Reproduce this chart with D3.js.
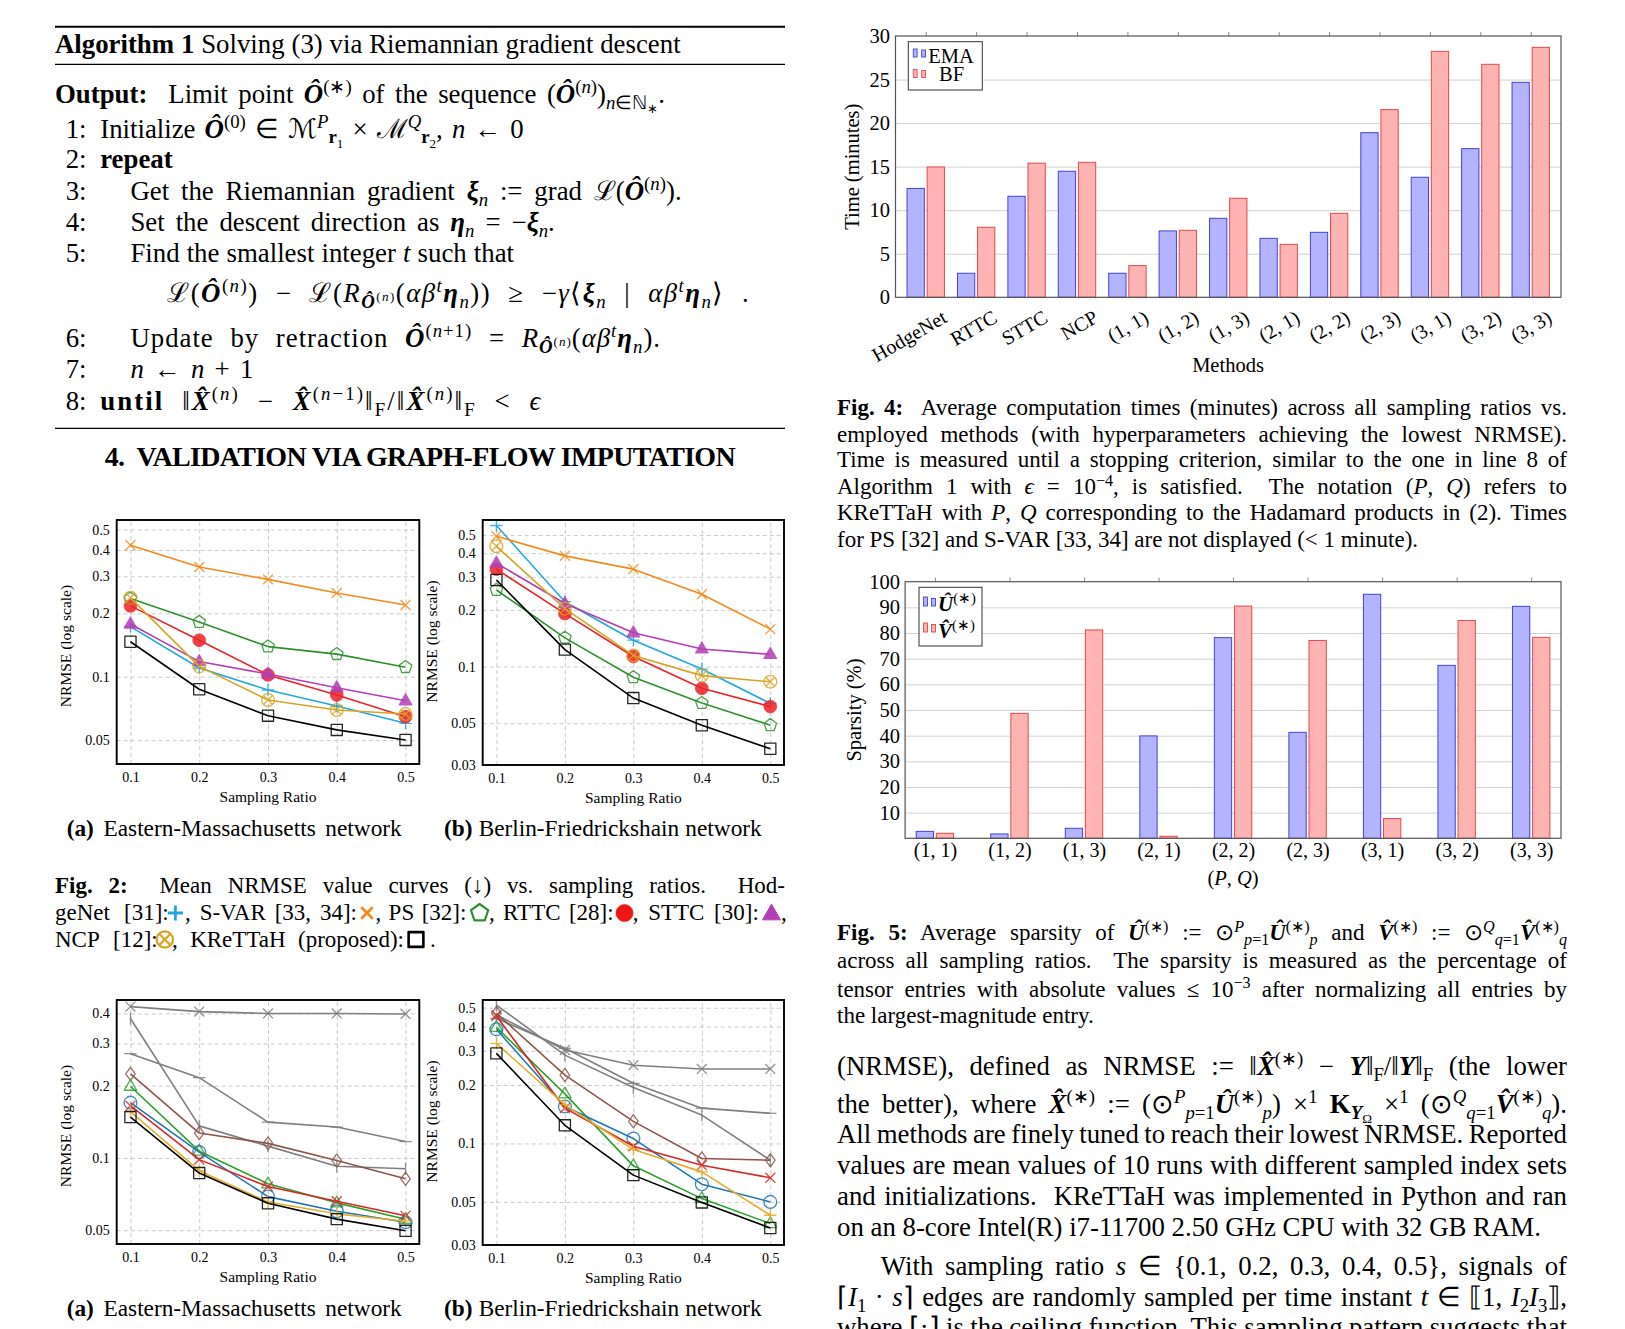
<!DOCTYPE html>
<html>
<head>
<meta charset="utf-8">
<script src="https://cdn.jsdelivr.net/npm/d3@7"></script>
<style>
  html,body{margin:0;padding:0;background:#fff;}
  svg{display:block;background:#fff;}
  svg text{font-family:"Liberation Serif","Times New Roman",serif;white-space:pre;}
</style>
</head>
<body>
<svg id="page" width="1625" height="1329" xmlns="http://www.w3.org/2000/svg"></svg>
<script>
// ================= DATA =================
const samplingRatios = [0.1, 0.2, 0.3, 0.4, 0.5];

// Fig. 2(a) Eastern-Massachusetts
const fig2aHodgeNet = [0.173, 0.110, 0.0865, 0.0726, 0.0601];
const fig2aSVAR     = [0.421, 0.332, 0.290, 0.250, 0.219];
const fig2aPS       = [0.235, 0.182, 0.139, 0.128, 0.111];
const fig2aRTTC     = [0.217, 0.149, 0.102, 0.0819, 0.0646];
const fig2aSTTC     = [0.178, 0.118, 0.103, 0.0887, 0.0769];
const fig2aNCP      = [0.237, 0.112, 0.0775, 0.0695, 0.0665];
const fig2aKReTTaH  = [0.1466, 0.0872, 0.0653, 0.0559, 0.0501];

// Fig. 2(b) Berlin-Friedrickshain
const fig2bHodgeNet = [0.561, 0.221, 0.138, 0.097, 0.0637];
const fig2bSVAR     = [0.492, 0.387, 0.329, 0.242, 0.158];
const fig2bPS       = [0.255, 0.142, 0.0877, 0.064, 0.0488];
const fig2bRTTC     = [0.329, 0.191, 0.113, 0.0766, 0.0613];
const fig2bSTTC     = [0.354, 0.216, 0.151, 0.124, 0.116];
const fig2bNCP      = [0.435, 0.203, 0.1145, 0.0895, 0.083];
const fig2bKReTTaH  = [0.288, 0.123, 0.068, 0.0488, 0.0366];

// Lower figure (a) Eastern-Massachusetts
const fig3aGrayCross = [0.427, 0.407, 0.400, 0.400, 0.398];
const fig3aGrayBar   = [0.381, 0.136, 0.112, 0.0923, 0.0902];
const fig3aGrayDash  = [0.272, 0.216, 0.141, 0.1345, 0.117];
const fig3aBrown     = [0.224, 0.127, 0.115, 0.0975, 0.0819];
const fig3aGreen     = [0.199, 0.1067, 0.078, 0.065, 0.0555];
const fig3aBlue      = [0.170, 0.1057, 0.069, 0.060, 0.054];
const fig3aRed       = [0.165, 0.0984, 0.076, 0.066, 0.0574];
const fig3aYellow    = [0.156, 0.0885, 0.0655, 0.0585, 0.0545];
const fig3aBlack     = [0.148, 0.0865, 0.0647, 0.0556, 0.0497];

// Lower figure (b) Berlin-Friedrickshain
const fig3bGrayCross = [0.459, 0.303, 0.253, 0.242, 0.242];
const fig3bGrayBar   = [0.516, 0.285, 0.194, 0.140, 0.082];
const fig3bGrayDash  = [0.441, 0.309, 0.204, 0.152, 0.143];
const fig3bBrown     = [0.468, 0.225, 0.130, 0.0837, 0.082];
const fig3bRed       = [0.453, 0.152, 0.0968, 0.0773, 0.0666];
const fig3bBlue      = [0.387, 0.155, 0.106, 0.0617, 0.050];
const fig3bGreen     = [0.396, 0.180, 0.0767, 0.052, 0.0387];
const fig3bYellow    = [0.328, 0.158, 0.0931, 0.0714, 0.0427];
const fig3bBlack     = [0.291, 0.124, 0.0687, 0.0497, 0.0367];

// Fig. 4 computation times
const fig4Methods = ["HodgeNet", "RTTC", "STTC", "NCP", "(1, 1)", "(1, 2)", "(1, 3)", "(2, 1)", "(2, 2)", "(2, 3)", "(3, 1)", "(3, 2)", "(3, 3)"];
const fig4EMA = [12.5, 2.76, 11.6, 14.47, 2.76, 7.62, 9.07, 6.77, 7.46, 18.9, 13.78, 17.07, 24.68];
const fig4BF  = [14.96, 8.04, 15.4, 15.5, 3.64, 7.69, 11.37, 6.08, 9.64, 21.55, 28.24, 26.75, 28.7];

// Fig. 5 sparsity
const fig5PQ = ["(1, 1)", "(1, 2)", "(1, 3)", "(2, 1)", "(2, 2)", "(2, 3)", "(3, 1)", "(3, 2)", "(3, 3)"];
const fig5U = [2.7, 1.7, 3.9, 39.9, 78.2, 41.3, 95.1, 67.4, 90.4];
const fig5V = [1.95, 48.7, 81.2, 0.8, 90.5, 77.1, 7.7, 84.9, 78.3];

// tick values
const fig2aYTicks = [0.05, 0.1, 0.2, 0.3, 0.4, 0.5];
const fig2bYTicks = [0.03, 0.05, 0.1, 0.2, 0.3, 0.4, 0.5];
const fig3aYTicks = [0.05, 0.1, 0.2, 0.3, 0.4];
const fig3bYTicks = [0.03, 0.05, 0.1, 0.2, 0.3, 0.4, 0.5];
const fig4YTicks = [0, 5, 10, 15, 20, 25, 30];
const fig5YTicks = [10, 20, 30, 40, 50, 60, 70, 80, 90, 100];

// ================= HELPERS =================
const svg = d3.select("#page");

function parseRich(src){
  const segs=[]; const stack=[{b:false,i:false,shift:0,scale:1}];
  let buf="";
  const top=()=>stack[stack.length-1];
  const flush=()=>{ if(buf){ const s=top(); segs.push({t:buf,b:s.b,i:s.i,shift:s.shift,scale:s.scale}); buf=""; } };
  for(let k=0;k<src.length;k++){
    const c=src[k], n=src[k+1];
    if(c==="@"&&n==="{"){buf+="{";k++;continue;}
    if(c==="@"&&n==="}"){buf+="}";k++;continue;}
    if(c==="@"&&(n==="b"||n==="i"||n==="I")&&src[k+2]==="{"){
      flush(); const s=top();
      stack.push({b:s.b||n!=="i", i:s.i||n!=="b", shift:s.shift, scale:s.scale});
      k+=2; continue;
    }
    if((c==="^"||c==="_")&&n==="{"){
      flush(); const s=top();
      stack.push({b:s.b,i:s.i,shift:s.shift+(c==="^"?-0.36:0.22)*s.scale,scale:s.scale*0.7});
      k++; continue;
    }
    if(c==="}"){flush(); stack.pop(); continue;}
    buf+=c;
  }
  flush();
  return segs;
}

function rich(parent,x,y,src,size,anchor){
  const t=parent.append("text").attr("x",x).attr("y",y).attr("font-size",size).attr("fill","#000");
  if(anchor) t.attr("text-anchor",anchor);
  let cur=0;
  parseRich(src).forEach(s=>{
    const off=s.shift*size;
    const sp=t.append("tspan").attr("font-size",+(size*s.scale).toFixed(2)).text(s.t);
    const dy=off-cur;
    if(Math.abs(dy)>0.001) sp.attr("dy",+dy.toFixed(2));
    cur=off;
    if(s.b) sp.attr("font-weight","bold");
    if(s.i) sp.attr("font-style","italic");
  });
  return t;
}

// mode "j": justified prose (extra space between words); "m": mixed (limited word spacing, rest over letters)
function justify(t,w,mode){
  const node=t.node();
  const nat=node.getComputedTextLength();
  const nsp=(node.textContent.match(/ /g)||[]).length;
  if(nsp>0){
    let ws=(w-nat)/nsp;
    if(mode==="m") ws=Math.max(-2,Math.min(ws,9));
    if(ws>-3) t.attr("word-spacing",+ws.toFixed(2));
  }
  t.attr("textLength",w).attr("lengthAdjust","spacing");
}

function T(x,y,src,size,w,anchor,mode){
  const t=rich(svg,x,y,src,size,anchor);
  if(w) justify(t,w,mode);
  return t;
}

function hline(x1,x2,y,sw){
  svg.append("line").attr("x1",x1).attr("x2",x2).attr("y1",y).attr("y2",y).attr("stroke","#000").attr("stroke-width",sw);
}

function marker(g,type,color,cx,cy,r,sw,op){
  r=r||6.2; sw=sw||1.4; op=(op===undefined)?0.85:op;
  const m=g.append("g").attr("transform",`translate(${cx},${cy})`).attr("opacity",op);
  const st=sel=>sel.attr("stroke",color).attr("stroke-width",sw).attr("fill","none").attr("stroke-linejoin","round");
  if(type==="plus"){ st(m.append("path").attr("d",`M${-r},0H${r}M0,${-r}V${r}`)); }
  else if(type==="cross"){ const a=r*0.8; st(m.append("path").attr("d",`M${-a},${-a}L${a},${a}M${-a},${a}L${a},${-a}`)); }
  else if(type==="pentagon"){
    const pts=d3.range(5).map(k=>{const an=-Math.PI/2+k*2*Math.PI/5; return [r*Math.cos(an), r*Math.sin(an)].join(",");});
    st(m.append("polygon").attr("points",pts.join(" ")));
  }
  else if(type==="dot"){ m.append("circle").attr("r",r).attr("fill",color).attr("stroke",color).attr("stroke-width",sw*0.6); }
  else if(type==="triFill"||type==="triOpen"){
    const p=m.append("polygon").attr("points",`0,${-r*1.1} ${r*1.0},${r*0.65} ${-r*1.0},${r*0.65}`);
    st(p); if(type==="triFill") p.attr("fill",color);
  }
  else if(type==="otimes"){
    st(m.append("circle").attr("r",r));
    const a=r*0.7; st(m.append("path").attr("d",`M${-a},${-a}L${a},${a}M${-a},${a}L${a},${-a}`));
  }
  else if(type==="square"){ const a=r*0.9; st(m.append("rect").attr("x",-a).attr("y",-a).attr("width",2*a).attr("height",2*a)); }
  else if(type==="diamond"){ st(m.append("polygon").attr("points",`0,${-r} ${r*0.72},0 0,${r} ${-r*0.72},0`)); }
  else if(type==="circle"){ st(m.append("circle").attr("r",r)); }
  else if(type==="vbar"){ st(m.append("path").attr("d",`M0,${-r}V${r}`)); }
  else if(type==="hbar"){ st(m.append("path").attr("d",`M${-r},0H${r}`)); }
}

function styleAxis(a,size){
  a.select(".domain").remove();
  a.attr("font-size",size);
  a.selectAll("text").attr("fill","#000");
}

// ================= LINE CHARTS =================
function lineChart(c){
  const g=svg.append("g");
  const x=d3.scaleLinear().domain([0.08,0.52]).range([c.left,c.right]);
  const y=d3.scaleLog().domain(c.yDomain).range([c.bottom,c.top]);
  const H=c.bottom-c.top, W=c.right-c.left;
  const gx=g.append("g").attr("transform",`translate(0,${c.bottom})`)
    .call(d3.axisBottom(x).tickValues(samplingRatios).tickSize(-H).tickFormat(""));
  gx.select(".domain").remove();
  gx.selectAll("line").attr("stroke","#c4c4c4").attr("stroke-dasharray","4,3").attr("stroke-width",0.9);
  const gy=g.append("g").attr("transform",`translate(${c.left},0)`)
    .call(d3.axisLeft(y).tickValues(c.yTicks).tickSize(-W).tickFormat(""));
  gy.select(".domain").remove();
  gy.selectAll("line").attr("stroke","#c4c4c4").attr("stroke-dasharray","4,3").attr("stroke-width",0.9);

  const lx=g.append("g").attr("transform",`translate(0,${c.bottom})`)
    .call(d3.axisBottom(x).tickValues(samplingRatios).tickSize(0).tickPadding(8).tickFormat(d3.format(".1f")));
  styleAxis(lx,14);
  const ly=g.append("g").attr("transform",`translate(${c.left},0)`)
    .call(d3.axisLeft(y).tickValues(c.yTicks).tickSize(0).tickPadding(7).tickFormat(d=>String(d)));
  styleAxis(ly,14);

  const line=d3.line().x((d,i)=>x(samplingRatios[i])).y(d=>y(d));
  c.series.forEach(s=>{
    g.append("path").datum(s.values).attr("d",line).attr("fill","none")
      .attr("stroke",s.color).attr("stroke-width",1.6).attr("stroke-linejoin","round");
    s.values.forEach((v,i)=>marker(g,s.marker,s.color,x(samplingRatios[i]),y(v),s.r||6.2,1.3,0.85));
  });

  g.append("rect").attr("x",c.left).attr("y",c.top).attr("width",W).attr("height",H)
    .attr("fill","none").attr("stroke","#000").attr("stroke-width",1.9);

  g.append("text").attr("transform",`translate(${c.yLabelX},${(c.top+c.bottom)/2 + c.yLabelDy}) rotate(-90)`)
    .attr("text-anchor","middle").attr("dominant-baseline","central").attr("font-size",15.5).text("NRMSE (log scale)");
  g.append("text").attr("x",(c.left+c.right)/2).attr("y",c.bottom+38)
    .attr("text-anchor","middle").attr("font-size",15.5).text("Sampling Ratio");
}

const C2 = {HodgeNet:"#22a7e0", SVAR:"#f5891f", PS:"#2f8f2f", RTTC:"#ec2227", STTC:"#b33fb3", NCP:"#d8a424", K:"#000"};
function fig2Series(h,s,p,r,st,n,k){
  return [
    {values:h, color:C2.HodgeNet, marker:"plus"},
    {values:s, color:C2.SVAR, marker:"cross"},
    {values:p, color:C2.PS, marker:"pentagon", r:6.6},
    {values:r, color:C2.RTTC, marker:"dot", r:6.4},
    {values:st, color:C2.STTC, marker:"triFill", r:6.2},
    {values:n, color:C2.NCP, marker:"otimes", r:6.4},
    {values:k, color:C2.K, marker:"square", r:6.2}
  ];
}
const C3 = {gray:"#7f7f7f", brown:"#8c564b", green:"#2ca02c", blue:"#1f77b4", red:"#d62728", yellow:"#e4ad2c", black:"#000"};
function fig3Series(gx,gb,gd,br,gr,bl,rd,yl,bk){
  return [
    {values:gx, color:C3.gray, marker:"cross"},
    {values:gb, color:C3.gray, marker:"vbar"},
    {values:gd, color:C3.gray, marker:"hbar"},
    {values:br, color:C3.brown, marker:"diamond", r:6.6},
    {values:gr, color:C3.green, marker:"triOpen", r:6.2},
    {values:bl, color:C3.blue, marker:"circle", r:6.4},
    {values:rd, color:C3.red, marker:"cross"},
    {values:yl, color:C3.yellow, marker:"plus"},
    {values:bk, color:C3.black, marker:"square", r:6.2}
  ];
}

lineChart({left:116.7,right:419.3,top:520,bottom:764,yDomain:[0.0385,0.555],yTicks:fig2aYTicks,
  yLabelX:65,yLabelDy:4,
  series:fig2Series(fig2aHodgeNet,fig2aSVAR,fig2aPS,fig2aRTTC,fig2aSTTC,fig2aNCP,fig2aKReTTaH)});
lineChart({left:482.7,right:784,top:520,bottom:765,yDomain:[0.03,0.6],yTicks:fig2bYTicks,
  yLabelX:431.7,yLabelDy:-1,
  series:fig2Series(fig2bHodgeNet,fig2bSVAR,fig2bPS,fig2bRTTC,fig2bSTTC,fig2bNCP,fig2bKReTTaH)});
lineChart({left:116.7,right:419.3,top:1000,bottom:1244,yDomain:[0.0438,0.455],yTicks:fig3aYTicks,
  yLabelX:65,yLabelDy:4,
  series:fig3Series(fig3aGrayCross,fig3aGrayBar,fig3aGrayDash,fig3aBrown,fig3aGreen,fig3aBlue,fig3aRed,fig3aYellow,fig3aBlack)});
lineChart({left:482.7,right:784,top:1000,bottom:1245,yDomain:[0.03,0.548],yTicks:fig3bYTicks,
  yLabelX:431.7,yLabelDy:-1,
  series:fig3Series(fig3bGrayCross,fig3bGrayBar,fig3bGrayDash,fig3bBrown,fig3bGreen,fig3bBlue,fig3bRed,fig3bYellow,fig3bBlack)});

// ================= BAR CHARTS =================
function barChart(c){
  const g=svg.append("g");
  const x=d3.scalePoint().domain(c.cats).range([c.left,c.right]).padding(c.pad);
  const inner=d3.scaleBand().domain(["a","b"]).range([-18.7,18.7]).paddingInner(0.14);
  const y=d3.scaleLinear().domain([0,c.yMax]).range([c.bottom,c.top]);
  const W=c.right-c.left, H=c.bottom-c.top;
  const gy=g.append("g").attr("transform",`translate(${c.left},0)`)
    .call(d3.axisLeft(y).tickValues(c.grid).tickSize(-W).tickFormat(""));
  gy.select(".domain").remove();
  gy.selectAll("line").attr("stroke","#d2d2d2").attr("stroke-width",1);
  const gt=g.append("g").attr("transform",`translate(0,${c.top})`)
    .call(d3.axisTop(x).tickSize(4).tickFormat(""));
  gt.select(".domain").remove();
  gt.selectAll("line").attr("stroke","#8a8a8a");

  [["a",c.a,"#b3b3ff","#4343d8"],["b",c.b,"#ffb3b3","#e24a4a"]].forEach(([k,vals,fill,stroke])=>{
    g.append("g").selectAll("rect").data(c.cats).join("rect")
      .attr("x",d=>x(d)+inner(k)).attr("width",inner.bandwidth())
      .attr("y",(d,i)=>y(vals[i])).attr("height",(d,i)=>Math.max(0,c.bottom-y(vals[i])))
      .attr("fill",fill).attr("stroke",stroke).attr("stroke-width",1);
  });

  g.append("rect").attr("x",c.left).attr("y",c.top).attr("width",W).attr("height",H)
    .attr("fill","none").attr("stroke","#555").attr("stroke-width",1.2);

  const ly=g.append("g").attr("transform",`translate(${c.left},0)`)
    .call(d3.axisLeft(y).tickValues(c.yTicks).tickSize(0).tickPadding(c.yPad).tickFormat(d=>String(d)));
  styleAxis(ly,20.5);

  const lx=g.append("g").attr("transform",`translate(0,${c.bottom})`)
    .call(d3.axisBottom(x).tickSize(0).tickPadding(5));
  styleAxis(lx,20);
  if(c.rotate){
    lx.selectAll("text").attr("y",0).attr("dy",0).attr("text-anchor","end")
      .attr("transform","translate(22,24) rotate(-30)");
  }
  return {g,x,y};
}

barChart({left:895.5,right:1561,top:36,bottom:297.3,cats:fig4Methods,pad:0.6,a:fig4EMA,b:fig4BF,
  yMax:30,yTicks:fig4YTicks,grid:[5,10,15,20,25],yPad:5.5,rotate:true});
barChart({left:905.1,right:1561,top:581.7,bottom:838.3,cats:fig5PQ,pad:0.4,a:fig5U,b:fig5V,
  yMax:100,yTicks:fig5YTicks,grid:[10,20,30,40,50,60,70,80,90],yPad:5,rotate:false});

// axis titles of bar charts
svg.append("text").attr("transform","translate(851.5,166.7) rotate(-90)").attr("text-anchor","middle")
  .attr("dominant-baseline","central").attr("font-size",20.5).text("Time (minutes)");
svg.append("text").attr("x",1228).attr("y",372).attr("text-anchor","middle").attr("font-size",20.5).text("Methods");
svg.append("text").attr("transform","translate(853.7,710) rotate(-90)").attr("text-anchor","middle")
  .attr("dominant-baseline","central").attr("font-size",20.5).text("Sparsity (%)");
rich(svg,1233,885,"(@i{P}, @i{Q})",20.5,"middle");

// legends
svg.append("rect").attr("x",908.3).attr("y",41.7).attr("width",74).attr("height",48.3).attr("fill","#fff").attr("stroke","#333").attr("stroke-width",1);
[[49,"#b3b3ff","#4343d8"],[69.5,"#ffb3b3","#e24a4a"]].forEach(([yy,f,s])=>{
  svg.append("rect").attr("x",913.3).attr("y",yy).attr("width",3.8).attr("height",8).attr("fill",f).attr("stroke",s).attr("stroke-width",0.9);
  svg.append("rect").attr("x",921.7).attr("y",yy+1).attr("width",3.8).attr("height",7).attr("fill",f).attr("stroke",s).attr("stroke-width",0.9);
});
svg.append("text").attr("x",928.3).attr("y",62.5).attr("font-size",20.5).text("EMA");
svg.append("text").attr("x",951.5).attr("y",81).attr("text-anchor","middle").attr("font-size",20.5).text("BF");

svg.append("rect").attr("x",919).attr("y",587.3).attr("width",63).attr("height",58.7).attr("fill","#fff").attr("stroke","#333").attr("stroke-width",1);
[[597,"#b3b3ff","#4343d8"],[623,"#ffb3b3","#e24a4a"]].forEach(([yy,f,s])=>{
  svg.append("rect").attr("x",923.5).attr("y",yy).attr("width",4).attr("height",9).attr("fill",f).attr("stroke",s).attr("stroke-width",0.9);
  svg.append("rect").attr("x",931.5).attr("y",yy+1.5).attr("width",4).attr("height",7.5).attr("fill",f).attr("stroke",s).attr("stroke-width",0.9);
});
rich(svg,938,611,"@I{Û}^{(∗)}",21);
rich(svg,938,638,"@I{V\u0302}^{(∗)}",21);

// ================= TEXT =================
const F=26.8, C=23;
hline(55,785,26.8,1.9); hline(55,785,64.3,1.2); hline(55,785,428.3,1.2);
T(55,53,"@b{Algorithm 1} Solving (3) via Riemannian gradient descent",F,625.6,null,"m");
T(55,102.7,"@b{Output:}  Limit point @I{Ô}^{(∗)} of the sequence (@I{Ô}^{(@i{n})})_{@i{n}∈ℕ_{∗}}.",F,610,null,"m");
[["1:",137.5],["2:",168],["3:",200],["4:",231],["5:",262],["6:",347],["7:",378],["8:",410]]
  .forEach(([s,yy])=>T(86.5,yy,s,F,null,"end"));
T(100.2,137.5,"Initialize @I{Ô}^{(0)} ∈ ℳ^{@i{P}}_{@b{r}_{1}} × ℳ^{@i{Q}}_{@b{r}_{2}}, @i{n} ← 0",F,423.5,null,"m");
T(100.2,168,"@b{repeat}",F);
T(130.4,200,"Get the Riemannian gradient @I{ξ}_{@i{n}} := grad ℒ(@I{Ô}^{(@i{n})}).",F,551.2,null,"m");
T(130.4,231,"Set the descent direction as @I{η}_{@i{n}} = −@I{ξ}_{@i{n}}.",F,424.4,null,"m");
T(130.4,262,"Find the smallest integer @i{t} such that",F,383.6,null,"m");
T(167.2,302,"ℒ(@I{Ô}^{(@i{n})}) − ℒ(@i{R}_{@I{Ô}^{(@i{n})}}(@i{αβ}^{@i{t}}@I{η}_{@i{n}})) ≥ −@i{γ}⟨@I{ξ}_{@i{n}} | @i{αβ}^{@i{t}}@I{η}_{@i{n}}⟩ .",F,581.4,null,"m");
T(130.4,347,"Update by retraction @I{Ô}^{(@i{n}+1)} = @i{R}_{@I{Ô}^{(@i{n})}}(@i{αβ}^{@i{t}}@I{η}_{@i{n}}).",F,529.6,null,"m");
T(130.4,378,"@i{n} ← @i{n} + 1",F,122.9,null,"m");
T(100.2,410,"@b{until} ‖@I{X\u0302}^{(@i{n})} − @I{X\u0302}^{(@i{n}−1)}‖_{F}/‖@I{X\u0302}^{(@i{n})}‖_{F} < @i{ϵ}",F,440.2,null,"m");

T(104.7,466,"@b{4.  VALIDATION VIA GRAPH-FLOW IMPUTATION}",28,631);

T(66.7,836,"@b{(a)} Eastern-Massachusetts network",23.3,335);
T(444,836,"@b{(b)} Berlin-Friedrickshain network",23.3,317.7);
T(66.7,1316,"@b{(a)} Eastern-Massachusetts network",23.3,335);
T(444,1316,"@b{(b)} Berlin-Friedrickshain network",23.3,317.7);

// Fig. 2 caption
T(55,893,"@b{Fig. 2:}  Mean NRMSE value curves (↓) vs. sampling ratios.  Hod-",C,730);
T(55,920,"geNet [31]:",C,113.7);
T(185,920,", S-VAR [33, 34]:",C,172);
T(375.4,920,", PS [32]:",C,91);
T(489,920,", RTTC [28]:",C,124.6);
T(632.8,920,", STTC [30]:",C,126);
T(781,920,",",C);
T(55,947,"NCP [12]:",C,102.7);
T(172,947,", KReTTaH (proposed):",C,232);
T(430,947,".",C);
marker(svg,"plus",C2.HodgeNet,175.4,913,7.6,2.8,1);
marker(svg,"cross",C2.SVAR,367,913,7.2,2.8,1);
marker(svg,"pentagon",C2.PS,479.6,913,9,2.2,1);
marker(svg,"dot","#ee1515",624.5,913,8.6,1,1);
marker(svg,"triFill",C2.STTC,771.5,914,9,1,1);
marker(svg,"otimes",C2.NCP,164.8,939.5,8.2,2.3,1);
marker(svg,"square","#000",416,939.5,8.2,2.6,1);

// Fig. 4 caption
T(837,415,"@b{Fig. 4:}  Average computation times (minutes) across all sampling ratios vs.",C,730);
T(837,441.7,"employed methods (with hyperparameters achieving the lowest NRMSE).",C,730);
T(837,467.3,"Time is measured until a stopping criterion, similar to the one in line 8 of",C,730);
T(837,494,"Algorithm 1 with @i{ϵ} = 10^{−4}, is satisfied.  The notation (@i{P}, @i{Q}) refers to",C,730);
T(837,520,"KReTTaH with @i{P}, @i{Q} corresponding to the Hadamard products in (2). Times",C,730);
T(837,546.7,"for PS [32] and S-VAR [33, 34] are not displayed (< 1 minute).",C);

// Fig. 5 caption
T(837,940,"@b{Fig. 5:} Average sparsity of @I{Û}^{(∗)} := ⊙^{@i{P}}_{@i{p}=1}@I{Û}^{(∗)}_{@i{p}} and @I{V\u0302}^{(∗)} := ⊙^{@i{Q}}_{@i{q}=1}@I{V\u0302}^{(∗)}_{@i{q}}",C,730);
T(837,968.3,"across all sampling ratios.  The sparsity is measured as the percentage of",C,730);
T(837,996.7,"tensor entries with absolute values ≤ 10^{−3} after normalizing all entries by",C,730);
T(837,1022.7,"the largest-magnitude entry.",C);

// Body text
T(837,1075,"(NRMSE), defined as NRMSE := ‖@I{X\u0302}^{(∗)} − @I{Y}‖_{F}/‖@I{Y}‖_{F} (the lower",F,730);
T(837,1112.7,"the better), where @I{X\u0302}^{(∗)} := (⊙^{@i{P}}_{@i{p}=1}@I{Û}^{(∗)}_{@i{p}}) ×^{1} @b{K}_{@I{Y}_{Ω}} ×^{1} (⊙^{@i{Q}}_{@i{q}=1}@I{V\u0302}^{(∗)}_{@i{q}}).",F,730);
T(837,1143.3,"All methods are finely tuned to reach their lowest NRMSE. Reported",F,730);
T(837,1174,"values are mean values of 10 runs with different sampled index sets",F,730);
T(837,1205,"and initializations.  KReTTaH was implemented in Python and ran",F,730);
T(837,1236,"on an 8-core Intel(R) i7-11700 2.50 GHz CPU with 32 GB RAM.",F);
T(880.8,1275,"With sampling ratio @i{s} ∈ @{0.1, 0.2, 0.3, 0.4, 0.5@}, signals of",F,686.2);
T(837,1306,"⌈@i{I}_{1} · @i{s}⌉ edges are randomly sampled per time instant @i{t} ∈ ⟦1, @i{I}_{2}@i{I}_{3}⟧,",F,730);
T(837,1336,"where ⌈·⌉ is the ceiling function. This sampling pattern suggests that",F,730);
</script>
</body>
</html>
